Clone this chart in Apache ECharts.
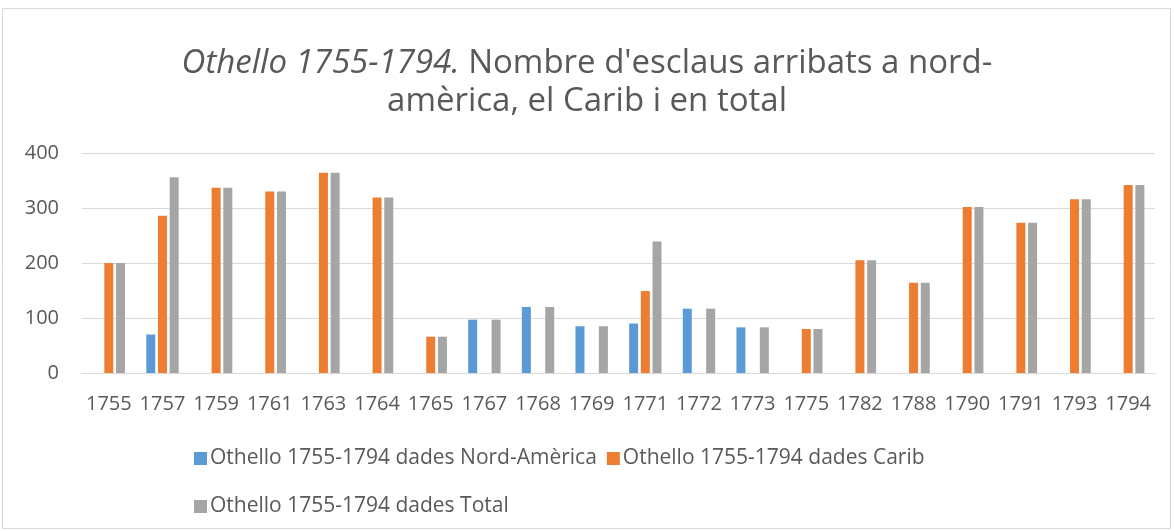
<!DOCTYPE html>
<html>
<head>
<meta charset="utf-8">
<script src="https://cdn.jsdelivr.net/npm/echarts@6/dist/echarts.min.js"></script>
<style>
html, body { margin: 0; padding: 0; background: #fff; }
#chart { width: 1174px; height: 531px; }
</style>
</head>
<body>
<div id="chart"></div>
<script>
const years = ['1755', '1757', '1759', '1761', '1763', '1764', '1765', '1767', '1768', '1769',
  '1771', '1772', '1773', '1775', '1782', '1788', '1790', '1791', '1793', '1794'];
const nordAmerica = [null, 70, null, null, null, null, null, 97, 120, 85,
  90, 117, 83, null, null, null, null, null, null, null];
const carib = [200, 286, 337, 330, 364, 319, 66, null, null, null,
  149, null, null, 80, 205, 164, 302, 273, 316, 342];
const total = [200, 356, 337, 330, 364, 319, 66, 97, 120, 85,
  239, 117, 83, 80, 205, 164, 302, 273, 316, 342];
const seriesNames = ['Othello 1755-1794 dades Nord-Amèrica', 'Othello 1755-1794 dades Carib', 'Othello 1755-1794 dades Total'];

const font = 'Open Sans';
const chart = echarts.init(document.getElementById('chart'));

const legendText = { fontFamily: font, fontSize: 21, color: '#595959', padding: [0, 0, 0, -2] };

chart.setOption({
  animation: false,
  graphic: [{
    type: 'rect',
    shape: { x: 2.5, y: 8.5, width: 1168, height: 520 },
    style: { fill: 'none', stroke: '#d9d9d9', lineWidth: 1 }
  }],
  title: {
    text: '{i|Othello 1755-1794.} Nombre d\'esclaus arribats a nord-\namèrica, el Carib i en total',
    left: 'center',
    top: 40,
    textStyle: {
      fontFamily: font,
      fontSize: 33,
      fontWeight: 'normal',
      color: '#595959',
      lineHeight: 38,
      rich: {
        i: { fontFamily: font, fontSize: 33, fontStyle: 'italic', color: '#595959', lineHeight: 38 }
      }
    }
  },
  legend: [{
    data: [seriesNames[0], seriesNames[1]],
    left: 189,
    top: 443,
    itemWidth: 13,
    itemHeight: 13,
    itemGap: 10,
    icon: 'rect',
    textStyle: legendText
  }, {
    data: [seriesNames[2]],
    left: 189,
    top: 491,
    itemWidth: 13,
    itemHeight: 13,
    icon: 'rect',
    textStyle: legendText
  }],
  grid: { left: 82, right: 19, top: 153, bottom: 158 },
  xAxis: {
    type: 'category',
    data: years,
    axisLine: { lineStyle: { color: '#d9d9d9', width: 1 } },
    axisTick: { show: false },
    axisLabel: { fontFamily: font, fontSize: 20, color: '#595959', margin: 21, interval: 0 }
  },
  yAxis: {
    type: 'value',
    min: 0,
    max: 400,
    interval: 100,
    axisLine: { show: false },
    axisTick: { show: false },
    splitLine: { lineStyle: { color: '#d9d9d9', width: 1 } },
    axisLabel: { fontFamily: font, fontSize: 20, color: '#595959', margin: 23 }
  },
  series: [
    { name: seriesNames[0], type: 'bar', data: nordAmerica, barWidth: 9, barGap: '30%', itemStyle: { color: '#5b9bd5' } },
    { name: seriesNames[1], type: 'bar', data: carib, barWidth: 9, barGap: '30%', itemStyle: { color: '#ed7d31' } },
    { name: seriesNames[2], type: 'bar', data: total, barWidth: 9, barGap: '30%', itemStyle: { color: '#a5a5a5' } }
  ]
});
</script>
</body>
</html>
